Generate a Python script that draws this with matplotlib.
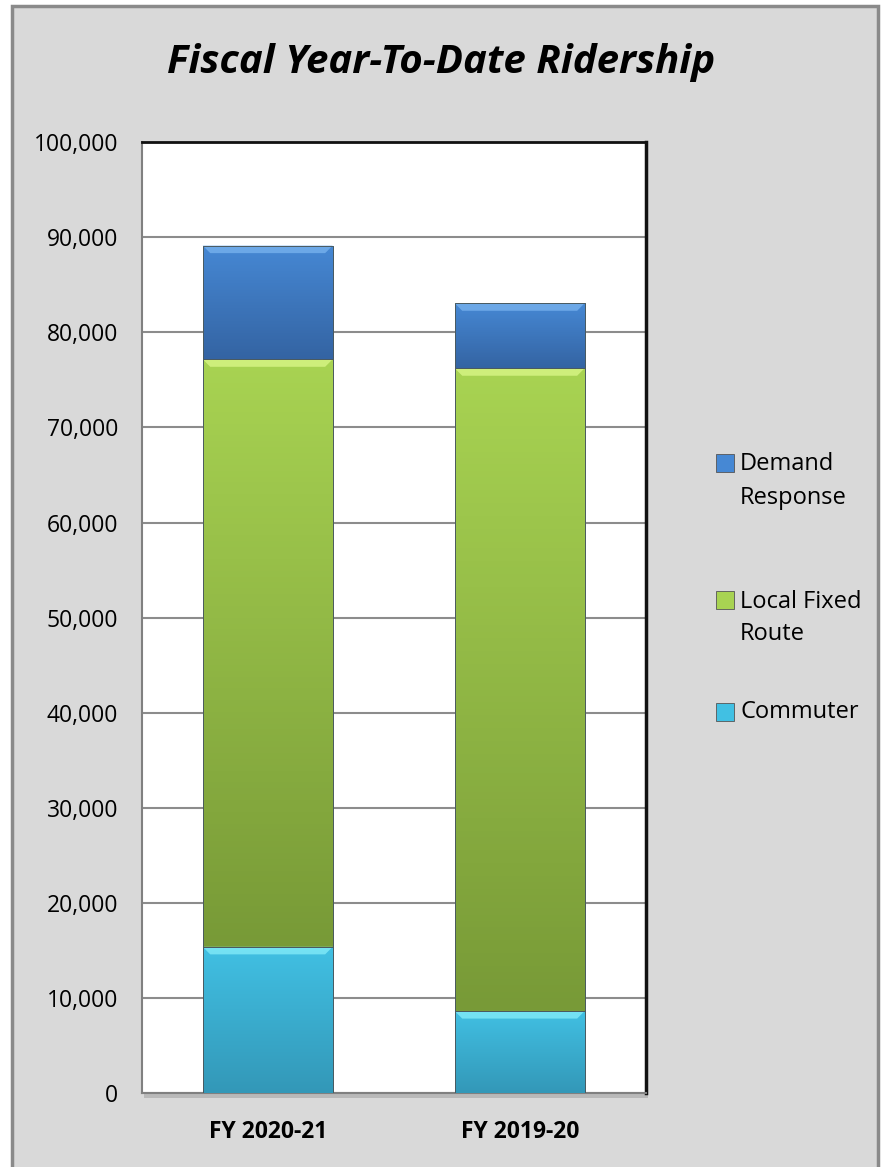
import matplotlib.pyplot as plt
import numpy as np
from matplotlib.patches import Rectangle
from matplotlib.ticker import FuncFormatter
from matplotlib.colors import LinearSegmentedColormap

plt.rcParams['font.family'] = ['Open Sans', 'DejaVu Sans']

# data
years = ["FY 2020-21", "FY 2019-20"]
commuter = [15400, 8650]
local_fixed = [61770, 67580]
demand = [11950, 6830]
series_names = ["Commuter", "Local Fixed\nRoute", "Demand\nResponse"]
colors = ["#39b3d6", "#8cb043", "#3c75bb"]
light = ["#41c0e3", "#a8d352", "#4688d4"]
dark = ["#3398b8", "#789a37", "#3464a3"]
tops = ["#86eefa", "#dcf88a", "#7ab4ef"]

fig = plt.figure(figsize=(8.9, 11.67), dpi=100)
fig.patch.set_facecolor("white")
# grey chart frame
fig.patches.append(Rectangle((12/890, -0.01), 866/890, 1 - 6/1167 + 0.01, transform=fig.transFigure,
                             facecolor="#d9d9d9", edgecolor="#8a8a8a", linewidth=2.5, zorder=0))

ax = fig.add_axes([0.1592, 0.0632, 0.5663, 0.8151])
# drop shadow behind plot area
fig.patches.append(Rectangle((0.1592 + 0.003, 0.0632 - 0.004), 0.5663, 0.8151, transform=fig.transFigure,
                             facecolor="#9a9a9a", edgecolor="none", zorder=1, alpha=0.5))
ax.set_zorder(2)
ax.set_facecolor("white")

x = [0, 1]
w = 0.516
bottom = [0, 0]
grad = np.linspace(0, 1, 100).reshape(-1, 1)
for vals, col, lt, dk, top in zip([commuter, local_fixed, demand], colors, light, dark, tops):
    bars = ax.bar(x, vals, w, bottom=bottom, color=col, edgecolor="#4d6570", linewidth=0.6, zorder=3)
    cmap = LinearSegmentedColormap.from_list("g", [dk, lt])
    for r in bars:
        x0, y0, bw, bh = r.get_x(), r.get_y(), r.get_width(), r.get_height()
        im = ax.imshow(grad, extent=(x0, x0 + bw, y0, y0 + bh), origin="lower", cmap=cmap,
                       aspect="auto", zorder=3.5)
        im.set_clip_path(r)
        # light bevel at top of each segment
        ax.fill([x0, x0 + bw, x0 + bw - 0.03, x0 + 0.03],
                [y0 + bh, y0 + bh, y0 + bh - 800, y0 + bh - 800],
                color=top, alpha=0.75, linewidth=0, zorder=4)
        ax.add_patch(Rectangle((x0, y0), bw, bh, fill=False, edgecolor="#4a5a60",
                               linewidth=0.7, zorder=5))
    bottom = [b + v for b, v in zip(bottom, vals)]

ax.set_xlim(-0.5, 1.5)
ax.set_ylim(0, 100000)
ax.set_yticks(range(0, 100001, 10000))
ax.yaxis.set_major_formatter(FuncFormatter(lambda v, p: f"{int(v):,}"))
ax.grid(axis="y", color="#8c8c8c", linewidth=1.5, zorder=0)
ax.set_axisbelow(True)
ax.set_xticks(x)
ax.set_xticklabels(years, fontweight="bold", fontsize=16.5)
ax.tick_params(axis="y", length=0, labelsize=16.5, pad=17)
ax.tick_params(axis="x", length=0, pad=19)
for s in ["left", "bottom"]:
    ax.spines[s].set_color("#808080")
    ax.spines[s].set_linewidth(1.5)
ax.spines["top"].set_color("#111111")
ax.spines["top"].set_linewidth(2)
ax.spines["right"].set_color("#111111")
ax.spines["right"].set_linewidth(2.5)

fig.text(0.496, 1 - 62/1167, "Fiscal Year-To-Date Ridership", ha="center", va="center",
         fontsize=29, fontweight="bold", fontstyle="italic")

# legend, top entry first
leg_y = [481, 618, 712]
for name, col, lt, yy in zip(series_names[::-1], colors[::-1], light[::-1], leg_y):
    first_line_y = yy - (18 if "\n" in name else 0)
    fig.patches.append(Rectangle((716/890, 1 - (first_line_y + 9)/1167), 18/890, 18/1167,
                                 transform=fig.transFigure, facecolor=lt, edgecolor="#555555",
                                 linewidth=0.6, zorder=3))
    fig.text(740/890, 1 - yy/1167, name, ha="left", va="center", fontsize=17, linespacing=1.5)

fig.savefig("out.png", dpi=100, facecolor=fig.get_facecolor())
